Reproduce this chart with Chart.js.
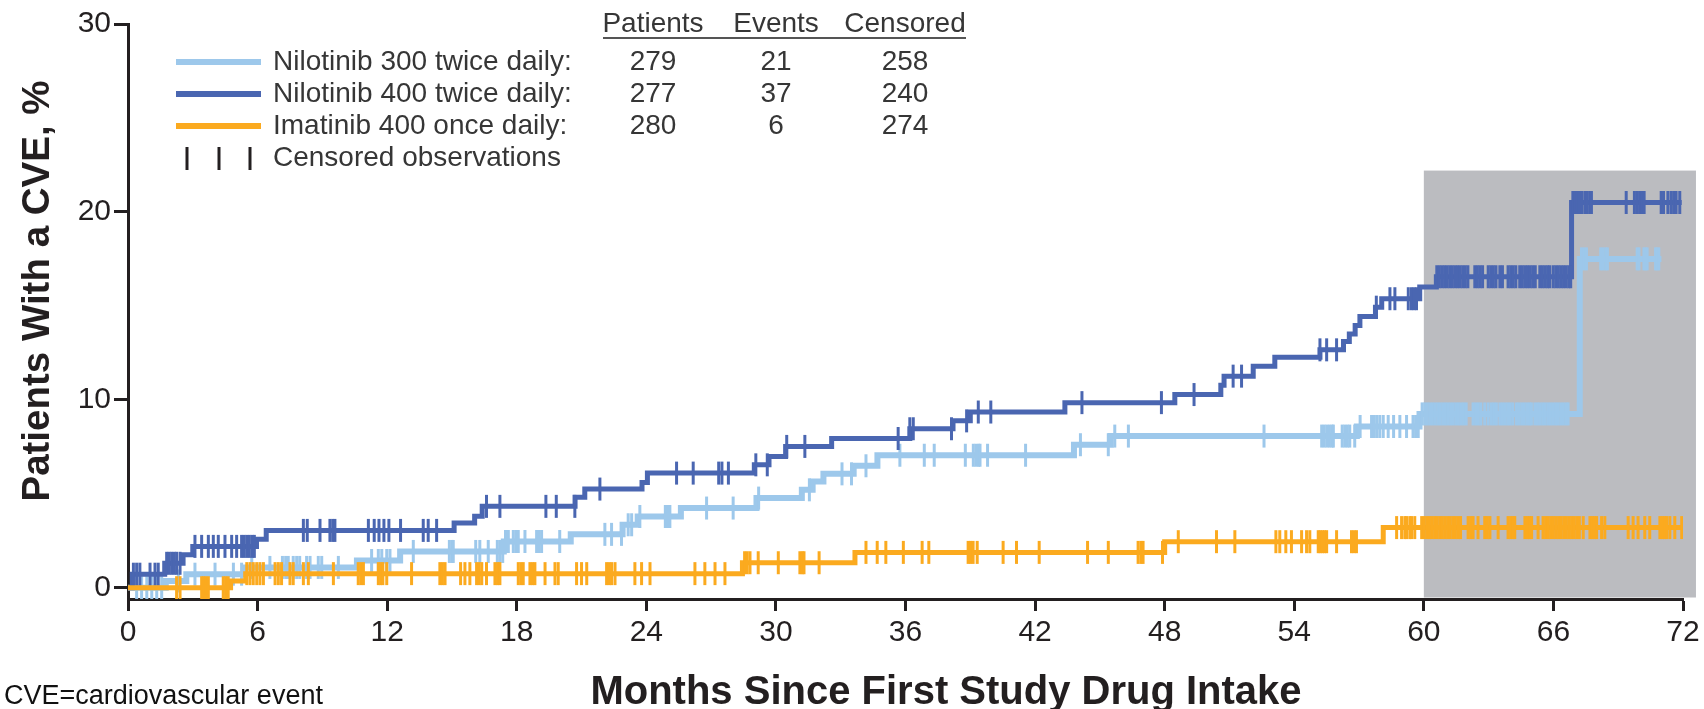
<!DOCTYPE html>
<html>
<head>
<meta charset="utf-8">
<title>Cumulative incidence of cardiovascular events</title>
<script src="https://cdn.jsdelivr.net/npm/chart.js@4.4.1/dist/chart.umd.min.js"></script>
<style>
  html, body { margin: 0; padding: 0; background: #ffffff; }
  #wrap { position: relative; width: 1704px; height: 709px; }
  canvas { display: block; }
</style>
</head>
<body>
<div id="wrap"><canvas id="cve" width="1704" height="709"></canvas></div>
<script>
// ---- Axis ticks ----
const xTickValues = [0, 6, 12, 18, 24, 30, 36, 42, 48, 54, 60, 66, 72];
const yTickValues = [0, 10, 20, 30];

// ---- Series labels and summary table ----
const seriesNames = ['Nilotinib 300 twice daily:', 'Nilotinib 400 twice daily:', 'Imatinib 400 once daily:'];
const tableHeaders = ['Patients', 'Events', 'Censored'];
const patients = [279, 277, 280];
const events = [21, 37, 6];
const censored = [258, 240, 274];

// ---- Kaplan-Meier steps: month of each step and cumulative % after it ----
const nil300Time = [0, 1.75, 2.7, 5.4, 10.6, 12.6, 17.4, 20.5, 22.9, 23.6, 25.6, 29.1, 31.2, 31.7, 32.2, 33.6, 34.7, 43.8, 45.5, 56.9, 59.8, 67.22, 71.0];
const nil300Pct  = [0, 0.36, 0.72, 1.08, 1.45, 1.93, 2.46, 2.84, 3.35, 3.79, 4.24, 4.77, 5.21, 5.65, 6.06, 6.49, 7.05, 7.61, 8.07, 8.58, 9.25, 17.5, 17.5];

const nil400Time = [0, 0.2, 1.7, 2.55, 3.0, 5.95, 6.4, 15.1, 16.05, 16.4, 20.7, 21.15, 23.8, 24.05, 29.0, 29.68, 30.45, 32.58, 36.2, 38.2, 39.0, 43.38, 48.47, 50.6, 50.75, 52.1, 53.1, 55.19, 56.28, 56.55, 56.82, 57.04, 57.76, 58.05, 59.81, 60.58, 66.84, 71.94];
const nil400Pct  = [0, 0.72, 1.3, 1.76, 2.2, 2.58, 3.05, 3.45, 3.8, 4.33, 4.82, 5.25, 5.6, 6.1, 6.54, 6.98, 7.52, 7.94, 8.46, 8.88, 9.35, 9.85, 10.28, 10.78, 11.26, 11.78, 12.27, 12.66, 13.1, 13.5, 13.95, 14.43, 14.93, 15.38, 16.0, 16.55, 20.5, 20.5];

const imaTime = [0, 4.75, 5.45, 28.45, 33.66, 48.0, 58.12, 72.0];
const imaPct  = [0, 0.36, 0.75, 1.33, 1.88, 2.45, 3.2, 3.2];

// ---- Censoring times (months) ----
const nil300Cens = [
  0.4, 0.63, 0.87, 1.1, 1.33, 1.56,
  2.33, 3.1, 4.03, 4.88, 5.26, 5.73, 6.57,
  7.15, 7.3, 7.42, 7.65, 7.81, 7.95, 8.27, 8.43, 8.81, 8.97, 9.74,
  11.28, 11.59, 11.75, 11.98, 12.13, 13.21,
  14.88, 15.0, 15.06, 16.1, 16.29, 16.68,
  17.1, 17.22, 17.35, 17.48, 17.61, 17.84, 17.96, 18.07, 18.38, 18.92, 19.03, 19.15, 19.99,
  22.08, 22.39, 22.85, 23.16, 23.32, 23.7,
  24.88, 24.98, 25.09, 26.79, 28.02, 29.2,
  31.55, 33.06, 33.5, 34.17, 35.74, 36.87, 37.33, 38.77, 39.14, 39.26, 39.38, 39.45, 39.8, 41.56, 44.1,
  45.39, 45.69, 46.32, 52.6,
  55.27, 55.39, 55.51, 55.63, 55.75, 55.81,
  56.22, 56.34, 56.46, 56.57, 56.8, 57.05,
  57.58, 57.7, 57.82, 57.96, 58.12, 58.35, 58.6, 58.89, 59.2,
  59.5, 59.62, 59.74,
  59.92, 60.04, 60.16, 60.28, 60.4, 60.52, 60.64, 60.76, 60.88, 61.0, 61.12, 61.24, 61.36, 61.48, 61.6, 61.72, 61.84, 61.96,
  62.28, 62.4, 62.52, 62.64,
  62.82, 62.98,
  63.13, 63.25, 63.36,
  63.52, 63.64, 63.76, 63.88, 64.0, 64.12,
  64.29, 64.41, 64.53, 64.65, 64.77, 64.89, 64.98,
  65.14, 65.26, 65.38, 65.5, 65.62, 65.74, 65.86, 65.98, 66.1, 66.22, 66.34, 66.46, 66.58, 66.68,
  67.3, 67.42, 67.53,
  68.19, 68.3, 68.42, 68.5,
  69.88, 69.96,
  70.19, 70.27, 70.34,
  70.73, 70.8, 70.88
];

const nil400Cens = [
  0.25, 0.4, 0.55, 1.02, 1.25, 1.4,
  1.79, 1.9, 2.02, 2.14, 2.25, 2.41,
  3.1, 3.41, 3.72, 3.95, 4.18, 4.49, 4.8, 5.03, 5.26, 5.38, 5.5, 5.62, 5.75, 5.85,
  8.12, 8.3, 8.89, 9.35, 9.48, 9.58,
  11.13, 11.4, 11.62, 11.85, 12.08, 12.62, 13.67, 13.9, 14.29,
  16.6, 17.22, 19.35, 19.83, 20.69, 21.85,
  25.4, 26.17, 27.35, 27.5, 27.8, 29.07, 29.6, 30.5, 31.34,
  35.66, 36.2, 36.36, 38.13, 38.83, 39.37, 39.95,
  44.17, 47.85, 49.36, 51.17, 51.56, 55.19, 55.5, 55.96,
  57.8, 58.43, 58.66, 59.28, 59.43, 59.55, 59.66,
  60.6, 60.72, 60.84, 60.96, 61.08, 61.2, 61.32, 61.44, 61.56, 61.68, 61.8, 61.92, 62.04,
  62.36, 62.48, 62.6, 62.72,
  62.98, 63.1, 63.22, 63.34,
  63.52, 63.64,
  63.9, 64.02, 64.14, 64.26,
  64.44, 64.56, 64.68, 64.8, 64.92, 65.04, 65.16,
  65.37, 65.49, 65.61, 65.73, 65.83,
  65.99, 66.11, 66.23, 66.35, 66.47, 66.59, 66.71, 66.8,
  66.9, 67.0, 67.1, 67.2, 67.3,
  67.45, 67.57, 67.69, 67.76,
  69.37, 69.75, 69.87, 69.99, 70.11, 70.2,
  70.99, 71.1, 71.3, 71.45, 71.57, 71.68, 71.85
];

const imaCens = [
  2.25, 2.41, 3.41, 3.5, 3.6, 3.72, 4.41, 4.52, 4.64,
  5.5, 5.65, 5.8, 5.96, 6.11, 6.27, 6.81, 6.96, 7.11, 7.5, 7.65, 8.12, 8.35, 9.51,
  10.66, 10.78, 10.9, 11.59, 11.7, 11.8, 11.98, 13.13,
  14.44, 14.56, 14.68, 15.4, 15.6, 15.83, 16.14, 16.26, 16.38, 16.6, 16.99, 17.11, 17.22,
  18.07, 18.19, 18.3, 18.61, 18.73, 18.84, 19.31, 19.77, 19.92, 20.77, 21.0, 21.24,
  22.16, 22.28, 22.39, 22.55, 23.47, 23.78, 24.17, 26.25, 26.71, 27.18, 27.64,
  28.55, 28.67, 28.8, 29.18, 30.11, 31.11, 31.22, 31.3, 32.0,
  34.17, 34.69, 35.09, 35.9, 36.77, 37.08, 38.9, 39.01, 39.13, 39.32, 40.52, 41.14, 42.19, 44.43,
  45.39, 46.77, 46.9, 47.0, 47.9,
  48.63, 50.4, 51.25, 53.15, 53.33, 53.61, 53.87, 54.34, 54.57, 54.72, 55.11, 55.2, 55.3, 55.4, 55.5, 55.96, 56.65, 56.77, 56.88,
  58.74, 58.97, 59.12, 59.2, 59.35, 59.43, 59.58,
  59.9, 60.02, 60.14, 60.26, 60.38, 60.5, 60.62, 60.74, 60.86, 60.98, 61.1, 61.22, 61.34, 61.46, 61.58, 61.7,
  62.05, 62.17, 62.28, 62.51, 62.82, 62.94, 63.06, 63.44, 63.9, 64.02, 64.13, 64.21, 64.68, 64.8, 64.9, 64.99, 65.29,
  65.52, 65.64, 65.76, 65.88, 66.0, 66.12, 66.24, 66.36, 66.48, 66.6, 66.72, 66.84, 66.96, 67.08, 67.2,
  67.38, 67.69, 67.8, 67.9, 68.0, 68.23, 68.38, 69.46, 69.69, 69.92, 70.23, 70.46, 70.93, 71.05, 71.15, 71.24, 71.39, 71.62, 71.94
];

// ---- Styling ----
const FONT = "'Liberation Sans', Arial, Helvetica, sans-serif";
const INK = '#231f20';
const TEXT = '#363636';
const colors = ['#9dc8eb', '#4a66b1', '#fbaa1f'];
const lineWidths = [6, 5, 5];
const SHADE = { from: 60, to: 72.6, top: 22.2, color: '#bbbcc0' };

// cumulative % of a step curve at time t
function levelAt(times, pcts, t) {
  let v = pcts[0];
  for (let i = 0; i < times.length; i++) {
    if (times[i] <= t) v = pcts[i]; else break;
  }
  return v;
}

function stepSeries(times, pcts) {
  return times.map((t, i) => ({ x: t, y: pcts[i] }));
}

function censorSeries(cens, times, pcts) {
  return cens.map(t => ({ x: t, y: levelAt(times, pcts, t) }));
}

function curve(data, color, width, order) {
  return {
    data, order,
    borderColor: color, borderWidth: width,
    stepped: 'before', tension: 0, fill: false,
    pointRadius: 0, pointHoverRadius: 0,
    borderJoinStyle: 'miter', borderCapStyle: 'butt'
  };
}

function marks(data, color, order) {
  return {
    data, order, showLine: false,
    pointStyle: 'line', pointRotation: 90,
    pointRadius: 11.5, pointHoverRadius: 11.5,
    pointBorderWidth: 3, pointBorderColor: color, pointBackgroundColor: color
  };
}

// grey band behind the curves
const shadePlugin = {
  id: 'shade',
  beforeDatasetsDraw(chart) {
    const { ctx, chartArea, scales: { x, y } } = chart;
    const x0 = x.getPixelForValue(SHADE.from);
    const x1 = x.getPixelForValue(SHADE.to);
    const y0 = y.getPixelForValue(SHADE.top);
    ctx.save();
    ctx.fillStyle = SHADE.color;
    ctx.fillRect(x0, y0, x1 - x0, chartArea.bottom - 1.5 - y0);
    ctx.restore();
  }
};

// axis titles, legend with summary table, footnote
const annotationPlugin = {
  id: 'annotations',
  afterDraw(chart) {
    const { ctx } = chart;
    ctx.save();

    // y-axis title
    ctx.fillStyle = INK;
    ctx.font = `bold 38.5px ${FONT}`;
    ctx.textAlign = 'center';
    ctx.textBaseline = 'alphabetic';
    ctx.translate(49, 291);
    ctx.rotate(-Math.PI / 2);
    ctx.fillText('Patients With a CVE, %', 0, 0);
    ctx.setTransform(1, 0, 0, 1, 0, 0);

    // x-axis title
    ctx.font = `bold 40px ${FONT}`;
    ctx.textAlign = 'center';
    ctx.fillText('Months Since First Study Drug Intake', 946, 704);

    // footnote
    ctx.font = `27px ${FONT}`;
    ctx.textAlign = 'left';
    ctx.textBaseline = 'middle';
    ctx.fillStyle = '#111';
    ctx.fillText('CVE=cardiovascular event', 4, 697);

    // legend rows
    const rowY = [62, 94, 126, 158];
    ctx.fillStyle = TEXT;
    ctx.font = `28px ${FONT}`;
    seriesNames.forEach((name, i) => {
      ctx.strokeStyle = colors[i];
      ctx.lineWidth = 6;
      ctx.lineCap = 'butt';
      ctx.beginPath();
      ctx.moveTo(176, rowY[i]);
      ctx.lineTo(261, rowY[i]);
      ctx.stroke();
      ctx.fillText(name, 273, rowY[i]);
    });
    ctx.strokeStyle = INK;
    ctx.lineWidth = 3;
    [187, 219, 250].forEach(px => {
      ctx.beginPath();
      ctx.moveTo(px, rowY[3] - 11);
      ctx.lineTo(px, rowY[3] + 12);
      ctx.stroke();
    });
    ctx.fillText('Censored observations', 273, rowY[3]);

    // summary table
    const colX = [653, 776, 905];
    ctx.textAlign = 'center';
    tableHeaders.forEach((h, i) => ctx.fillText(h, colX[i], 24));
    ctx.strokeStyle = '#555';
    ctx.lineWidth = 2;
    ctx.beginPath();
    ctx.moveTo(603, 38);
    ctx.lineTo(966, 38);
    ctx.stroke();
    [patients, events, censored].forEach((col, c) => {
      col.forEach((v, r) => ctx.fillText(String(v), colX[c], rowY[r]));
    });

    ctx.restore();
  }
};

Chart.defaults.font.family = FONT;

new Chart(document.getElementById('cve'), {
  type: 'line',
  data: {
    datasets: [
      marks(censorSeries(imaCens, imaTime, imaPct), colors[2], 1),
      curve(stepSeries(imaTime, imaPct), colors[2], lineWidths[2], 2),
      marks(censorSeries(nil400Cens, nil400Time, nil400Pct), colors[1], 3),
      curve(stepSeries(nil400Time, nil400Pct), colors[1], lineWidths[1], 4),
      marks(censorSeries(nil300Cens, nil300Time, nil300Pct), colors[0], 5),
      curve(stepSeries(nil300Time, nil300Pct), colors[0], lineWidths[0], 6)
    ]
  },
  options: {
    responsive: false,
    animation: false,
    events: [],
    layout: { padding: { left: 0, top: 24, right: 21, bottom: 0 } },
    plugins: { legend: { display: false }, tooltip: { enabled: false } },
    scales: {
      x: {
        type: 'linear', min: 0, max: 72, z: 1,
        afterBuildTicks: s => { s.ticks = xTickValues.map(v => ({ value: v })); },
        afterFit: s => { s.height = 110; },
        ticks: { font: { size: 30 }, color: INK, padding: 4, maxRotation: 0, autoSkip: false },
        grid: { drawOnChartArea: false, drawTicks: true, tickLength: 12, tickWidth: 3, tickColor: INK },
        border: { display: true, width: 3, color: INK }
      },
      y: {
        type: 'linear', min: -0.6, max: 30, z: 1,
        afterBuildTicks: s => { s.ticks = yTickValues.map(v => ({ value: v })); },
        afterFit: s => { s.width = 128; },
        ticks: { font: { size: 30 }, color: INK, padding: 3 },
        grid: { drawOnChartArea: false, drawTicks: true, tickLength: 14, tickWidth: 3, tickColor: INK },
        border: { display: true, width: 3, color: INK }
      }
    }
  },
  plugins: [shadePlugin, annotationPlugin]
});
</script>
</body>
</html>
